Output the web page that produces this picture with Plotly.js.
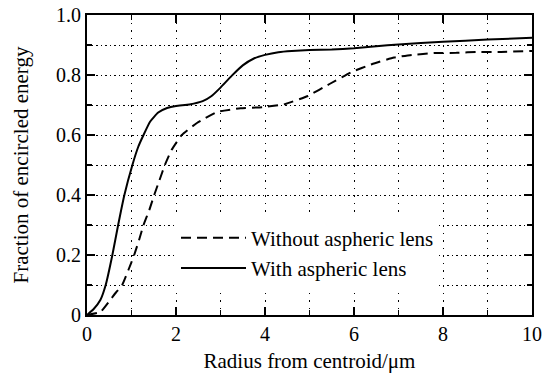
<!DOCTYPE html>
<html>
<head>
<meta charset="utf-8">
<script src="https://cdn.plot.ly/plotly-3.0.1.min.js"></script>
<style>html,body{margin:0;padding:0;background:#fff;}#chart{width:560px;height:377px;}</style>
</head>
<body>
<div id="chart"></div>
<script>
// Data
var withoutX = [0, 0.3, 0.52, 0.65, 0.79, 0.93, 1.06, 1.17, 1.27, 1.4, 1.51, 1.63, 1.75, 1.9, 2.13, 2.47, 2.93, 3.45, 3.95, 4.45, 4.96, 5.45, 5.95, 6.4, 6.9, 7.3, 7.8, 8.3, 8.8, 9.3, 10];
var withoutY = [0, 0.01, 0.05, 0.075, 0.1, 0.15, 0.2, 0.25, 0.3, 0.35, 0.4, 0.45, 0.5, 0.55, 0.6, 0.64, 0.677, 0.689, 0.693, 0.703, 0.73, 0.77, 0.81, 0.836, 0.858, 0.867, 0.873, 0.874, 0.877, 0.877, 0.88];
var withX = [0, 0.15, 0.3, 0.42, 0.57, 0.7, 0.84, 1.02, 1.15, 1.27, 1.42, 1.6, 1.8, 2.0, 2.3, 2.6, 2.8, 3.0, 3.25, 3.5, 3.75, 4.0, 4.3, 4.6, 5.0, 5.5, 6.0, 6.5, 7.0, 8.0, 9.0, 10.0];
var withY = [0, 0.02, 0.05, 0.1, 0.2, 0.3, 0.4, 0.5, 0.56, 0.6, 0.645, 0.675, 0.69, 0.697, 0.702, 0.713, 0.73, 0.758, 0.797, 0.832, 0.855, 0.867, 0.876, 0.88, 0.883, 0.885, 0.889, 0.896, 0.902, 0.911, 0.918, 0.924];
var seriesNames = ["Without aspheric lens", "With aspheric lens"];
var xTickVals = [0, 2, 4, 6, 8, 10];
var xTickText = ["0", "2", "4", "6", "8", "10"];
var yTickVals = [0, 0.2, 0.4, 0.6, 0.8, 1.0];
var yTickText = ["0", "0.2", "0.4", "0.6", "0.8", "1.0"];

var FONT = "'Liberation Serif', 'Times New Roman', Times, serif";

var traces = [
  {x: withoutX, y: withoutY, name: seriesNames[0], mode: "lines",
   line: {color: "#000", width: 2, dash: "10px,6px", shape: "spline", smoothing: 0.4}},
  {x: withX, y: withY, name: seriesNames[1], mode: "lines",
   line: {color: "#000", width: 2, shape: "spline", smoothing: 0.4}}
];

var layout = {
  width: 560, height: 377,
  margin: {l: 87, r: 28, t: 15, b: 62},
  paper_bgcolor: "#fff", plot_bgcolor: "#fff",
  font: {family: FONT, size: 18, color: "#000"},
  showlegend: true,
  legend: {x: 0.2, y: 0.325, xanchor: "left", yanchor: "top", bgcolor: "#fff",
           borderwidth: 0, font: {family: FONT, size: 21, color: "#000"},
           itemwidth: 65, tracegroupgap: 0},
  xaxis: {
    range: [0, 10], tickvals: xTickVals, ticktext: xTickText,
    showline: true, linecolor: "#000", linewidth: 2, mirror: "ticks",
    ticks: "inside", ticklen: 8, tickwidth: 2, tickcolor: "#000",
    showgrid: true, gridcolor: "#000", gridwidth: 1, griddash: "1.5px,6px",
    zeroline: false,
    minor: {dtick: 1, tick0: 0, ticks: "inside", ticklen: 5, tickwidth: 1.5, tickcolor: "#000",
            showgrid: true, gridcolor: "#000", gridwidth: 1, griddash: "1.5px,6px"},
    tickfont: {family: FONT, size: 20, color: "#000"},
    title: {text: "Radius from centroid/μm", font: {family: FONT, size: 21, color: "#000"}, standoff: 9}
  },
  yaxis: {
    range: [0, 1.0], tickvals: yTickVals, ticktext: yTickText,
    showline: true, linecolor: "#000", linewidth: 2, mirror: "ticks",
    ticks: "inside", ticklen: 8, tickwidth: 2, tickcolor: "#000",
    showgrid: true, gridcolor: "#000", gridwidth: 1, griddash: "1.5px,3px",
    zeroline: false,
    minor: {dtick: 0.1, tick0: 0, ticks: "inside", ticklen: 5, tickwidth: 1.5, tickcolor: "#000",
            showgrid: true, gridcolor: "#000", gridwidth: 1, griddash: "1.5px,3px"},
    tickfont: {family: FONT, size: 20, color: "#000"},
    title: {text: "Fraction of encircled energy", font: {family: FONT, size: 21, color: "#000"}, standoff: 22}
  }
};

Plotly.newPlot("chart", traces, layout, {staticPlot: true, displayModeBar: false});
</script>
</body>
</html>
